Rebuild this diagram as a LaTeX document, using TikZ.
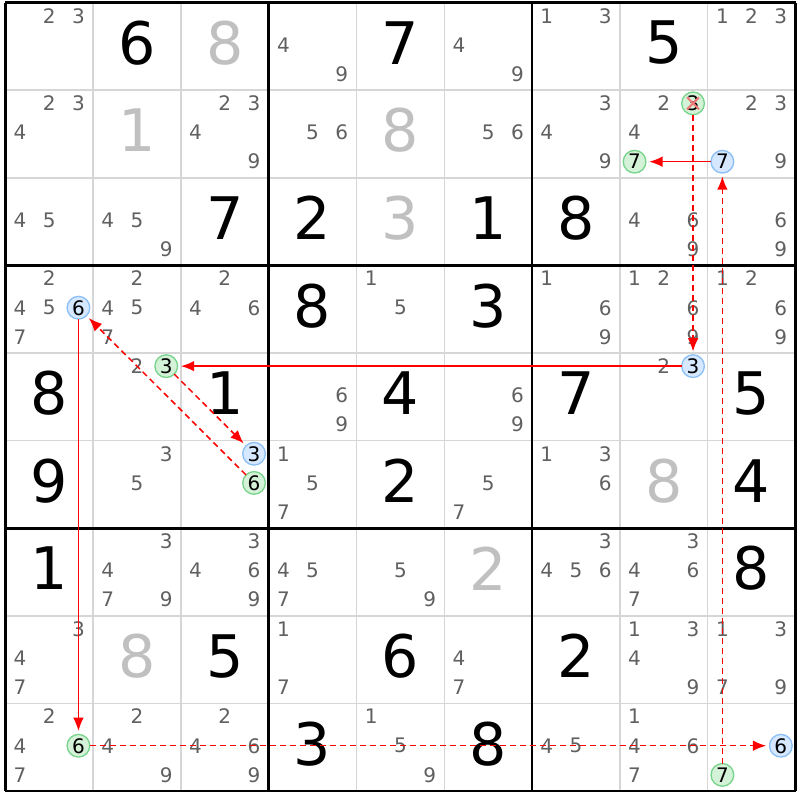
\documentclass[tikz,border=0pt]{standalone}
\usepackage{fontspec}
\setmainfont{DejaVu Sans}
\usetikzlibrary{arrows.meta}

\definecolor{candgray}{RGB}{96,96,96}
\definecolor{solvedgray}{RGB}{192,192,192}
\definecolor{gridgray}{RGB}{214,214,214}
\definecolor{markgreen}{RGB}{120,212,140}
\definecolor{fillgreen}{RGB}{212,242,216}
\definecolor{markblue}{RGB}{140,192,244}
\definecolor{fillblue}{RGB}{214,232,255}
\definecolor{xpink}{RGB}{240,120,120}
\definecolor{linkred}{RGB}{255,0,0}

\begin{document}
\begin{tikzpicture}[x=65.85pt, y=-65.7pt]
    \tikzstyle{minorline} = [draw=gridgray, line width=1.1pt]
    \tikzstyle{majorline} = [draw=black, line width=2pt]
    \tikzstyle{cand}   = [text=candgray, font=\fontsize{15}{15}\selectfont, inner sep=0pt]
    \tikzstyle{given}  = [text=black, font=\fontsize{44}{44}\selectfont, inner sep=0pt]
    \tikzstyle{solved} = [given, text=solvedgray]
    \tikzstyle{gmark}  = [circle, draw=markgreen, fill=fillgreen, line width=1pt,
                          minimum size=17pt, inner sep=0pt, outer sep=0pt,
                          font=\fontsize{15}{15}\selectfont]
    \tikzstyle{bmark}  = [gmark, draw=markblue, fill=fillblue]
    \tikzstyle{link}   = [color=linkred, line width=1.15pt,
                          -{Latex[length=10pt,width=8pt]}, shorten >=2.5pt]
    \tikzstyle{dlink}  = [link, dash pattern=on 4.5pt off 3pt]
    \tikzstyle{xmark}  = [draw=xpink, line width=1.5pt]

    \useasboundingbox (-0.0604,-0.0297) rectangle (9.0513,9.1027);
    \fill[white] (-0.0604,-0.0297) rectangle (9.0513,9.1027);

    % grid
    \foreach \i in {1,2,4,5,7,8} {
        \draw[minorline] (\i,0) -- (\i,9);
        \draw[minorline] (0,\i) -- (9,\i);
    }
    \foreach \i in {0,3,6,9} {
        \draw[majorline] (\i,0) -- (\i,9);
        \draw[majorline] (0,\i) -- (9,\i);
    }

    % givens
    \foreach \r/\c/\v in {1/2/6, 1/5/7, 1/8/5, 3/3/7, 3/4/2, 3/6/1, 3/7/8,
                          4/4/8, 4/6/3, 5/1/8, 5/3/1, 5/5/4, 5/7/7, 5/9/5,
                          6/1/9, 6/5/2, 6/9/4, 7/1/1, 7/9/8, 8/3/5, 8/5/6,
                          8/7/2, 9/4/3, 9/6/8}
        \node[given] (v\r\c) at ({\c-0.5},{\r-0.54}) {\v};

    % solved
    \foreach \r/\c/\v in {1/3/8, 2/2/1, 2/5/8, 3/5/3, 6/8/8, 7/6/2, 8/2/8}
        \node[solved] (v\r\c) at ({\c-0.5},{\r-0.54}) {\v};

    % candidates
    \foreach \r/\c/\ds in {1/1/{2,3}, 1/4/{4,9}, 1/6/{4,9}, 1/7/{1,3}, 1/9/{1,2,3},
            2/1/{2,3,4}, 2/3/{2,3,4,9}, 2/4/{5,6}, 2/6/{5,6}, 2/7/{3,4,9},
            2/8/{2,4}, 2/9/{2,3,9},
            3/1/{4,5}, 3/2/{4,5,9}, 3/8/{4,6,9}, 3/9/{6,9},
            4/1/{2,4,5,7}, 4/2/{2,4,5,7}, 4/3/{2,4,6}, 4/5/{1,5}, 4/7/{1,6,9},
            4/8/{1,2,6,9}, 4/9/{1,2,6,9},
            5/2/{2}, 5/4/{6,9}, 5/6/{6,9}, 5/8/{2},
            6/2/{3,5}, 6/4/{1,5,7}, 6/6/{5,7}, 6/7/{1,3,6},
            7/2/{3,4,7,9}, 7/3/{3,4,6,9}, 7/4/{4,5,7}, 7/5/{5,9},
            7/7/{3,4,5,6}, 7/8/{3,4,6,7},
            8/1/{3,4,7}, 8/4/{1,7}, 8/6/{4,7}, 8/8/{1,3,4,9}, 8/9/{1,3,7,9},
            9/1/{2,4,7}, 9/2/{2,4,9}, 9/3/{2,4,6,9}, 9/5/{1,5,9}, 9/7/{4,5},
            9/8/{1,4,6,7}}
        \foreach \d in \ds
            \node[cand] (k\r\c\d) at ({\c-0.5+0.333*(mod(\d-1,3)-1)},{\r-0.517+0.333*(int((\d-1)/3)-1)}) {\d};

    % marked candidates
    \foreach \r/\c/\d/\s in {2/8/3/gmark, 2/8/7/gmark, 2/9/7/bmark, 4/1/6/bmark,
                             5/2/3/gmark, 5/8/3/bmark, 6/3/3/bmark, 6/3/6/gmark,
                             9/1/6/gmark, 9/9/6/bmark, 9/9/7/gmark}
        \node[\s] (m\r\c\d) at ({\c-0.5+0.333*(mod(\d-1,3)-1)},{\r-0.517+0.333*(int((\d-1)/3)-1)}) {\d};

    % eliminated
    \draw[xmark] ([shift={(-4.5pt,4.5pt)}]m283.center) -- ([shift={(4.5pt,-4.5pt)}]m283.center);
    \draw[xmark] ([shift={(-4.5pt,-4.5pt)}]m283.center) -- ([shift={(4.5pt,4.5pt)}]m283.center);

    % chain
    \draw[link]  (m297) -- (m287);
    \draw[dlink] (m997) -- (m297);
    \draw[dlink] (m283) -- (m583);
    \draw[link]  (m583) -- (m523);
    \draw[dlink] (m523) -- (m633);
    \draw[dlink] (m636) -- (m416);
    \draw[link]  (m416) -- (m916);
    \draw[dlink] (m916) -- (m996);

\end{tikzpicture}
\end{document}
